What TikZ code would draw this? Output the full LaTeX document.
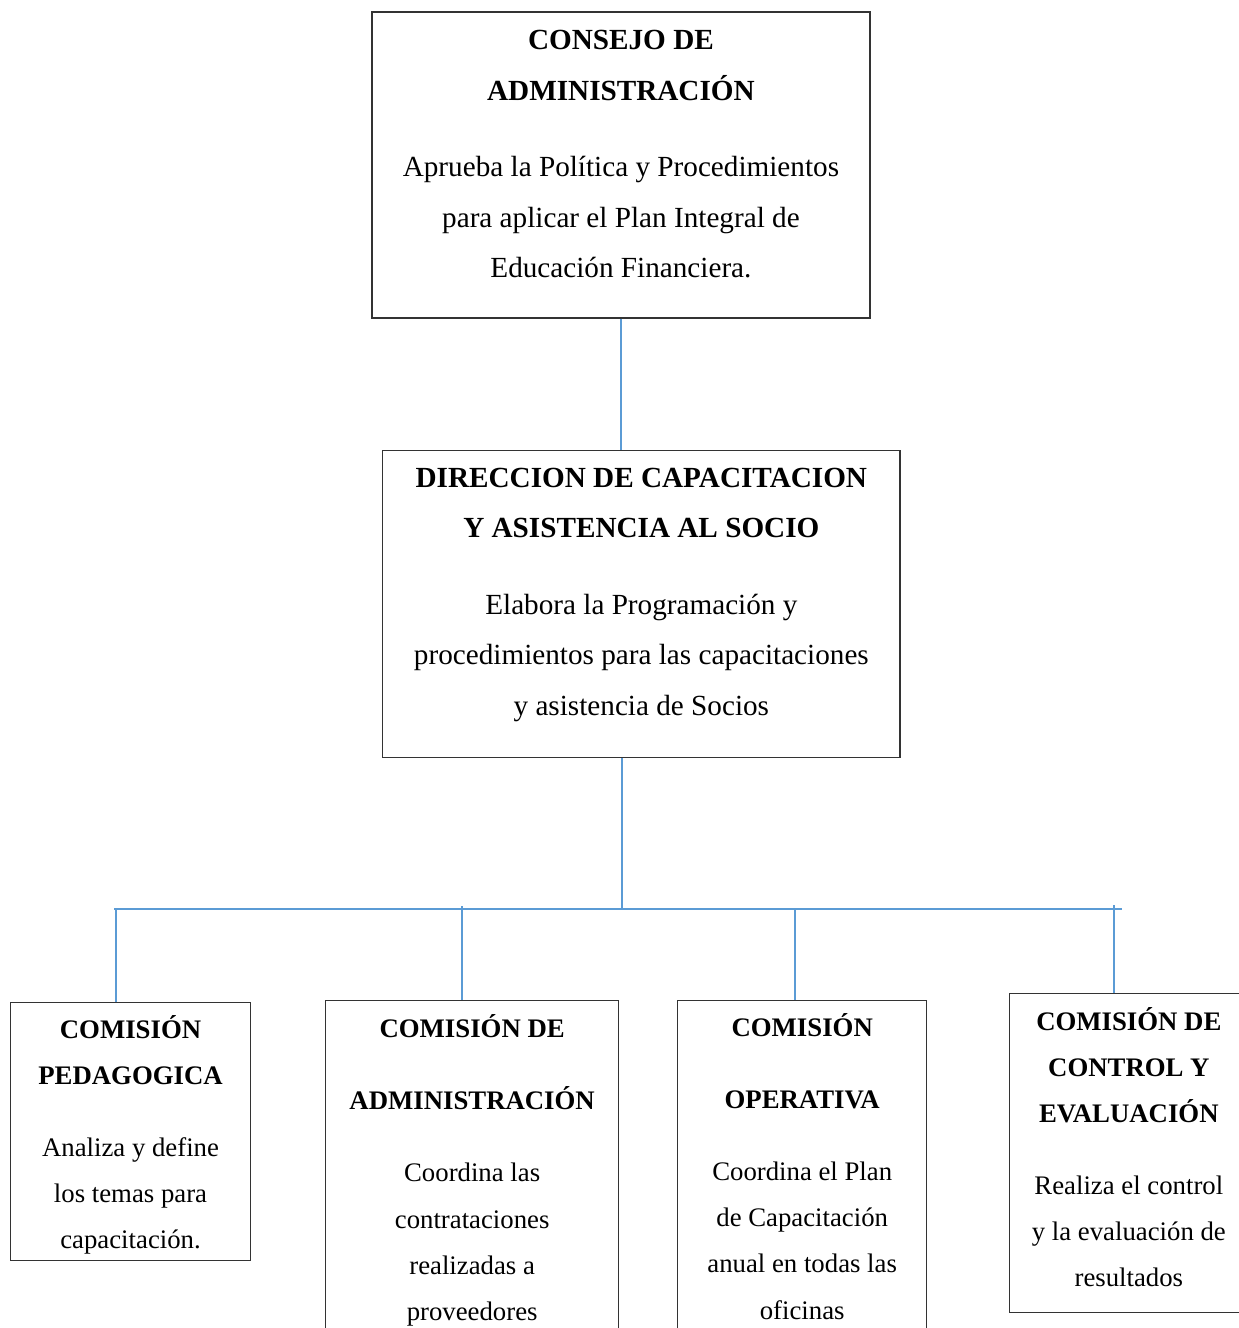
\documentclass[tikz,border=0pt]{standalone}
\usepackage{fontspec}
\setmainfont{Liberation Serif}
\usepackage{xcolor}
\usetikzlibrary{positioning,calc}
\definecolor{linkblue}{RGB}{91,155,213}

\begin{document}
\begin{tikzpicture}[
  font=\fontsize{12}{20.7}\selectfont,
  block/.style={draw=black!80,line width=0.5pt,align=center,inner sep=0pt},
  unit/.style={block,font=\fontsize{11}{19}\selectfont},
  link/.style={draw=linkblue,line width=0.65pt}]

\useasboundingbox (0,0) rectangle (509.2pt,-545.8pt);

% ---- board and direction ----
\node[block,minimum width=204.7pt,minimum height=125.8pt] (consejo) at (255.2pt,-67.8pt)
  {\textbf{CONSEJO DE}\\ \textbf{ADMINISTRACIÓN}\\[10.9pt]
   Aprueba la Política y Procedimientos\\ para aplicar el Plan Integral de\\
   Educación Financiera.\rule[-9pt]{0pt}{0pt}};
\node[block,minimum width=212.5pt,minimum height=126.2pt,below=53.8pt of consejo,xshift=8.4pt] (direccion)
  {\textbf{DIRECCION DE CAPACITACION}\\ \textbf{Y ASISTENCIA AL SOCIO}\\[10.9pt]
   Elabora la Programación y\\ procedimientos para las capacitaciones\\
   y asistencia de Socios\rule[-10pt]{0pt}{0pt}};

% ---- commissions ----
\node[unit,minimum width=98.6pt,minimum height=106pt,anchor=north west] (pedagogica) at (4.1pt,-411.8pt)
  {\rule{0pt}{12.2pt}\textbf{COMISIÓN}\\ \textbf{PEDAGOGICA}\\[10.6pt]
   Analiza y define\\ los temas para\\ capacitación.};
\node[unit,minimum width=120.4pt,minimum height=139.7pt,right=30.4pt of pedagogica.north east,
      anchor=north west,yshift=0.8pt] (administracion)
  {\textbf{COMISIÓN DE}\\[10.6pt] \textbf{ADMINISTRACIÓN}\\[10.6pt]
   Coordina las\\ contrataciones\\ realizadas a\\ proveedores};
\node[unit,minimum width=102.3pt,minimum height=139.7pt,right=23.8pt of administracion.north east,
      anchor=north west] (operativa)
  {\textbf{COMISIÓN}\\[10.6pt] \textbf{OPERATIVA}\\[10.6pt]
   Coordina el Plan\\ de Capacitación\\ anual en todas las\\ oficinas\rule[-3.5pt]{0pt}{0pt}};
\node[unit,minimum width=97.8pt,minimum height=131.1pt,right=33.7pt of operativa.north east,
      anchor=north west,yshift=2.9pt] (control)
  {\textbf{COMISIÓN DE}\\ \textbf{CONTROL Y}\\ \textbf{EVALUACIÓN}\\[10.6pt]
   Realiza el control\\ y la evaluación de\\ resultados\rule[-5pt]{0pt}{0pt}};

% ---- connectors ----
\coordinate (hub) at (255.6pt,-373.6pt);
\coordinate (busL) at (46.9pt,-373.6pt);
\coordinate (busR) at (461.1pt,-373.6pt);
\coordinate (tapA) at (47.7pt,-373.6pt);
\coordinate (tapB) at (189.9pt,-372.4pt);
\coordinate (tapC) at (326.7pt,-373.6pt);
\coordinate (tapD) at (457.9pt,-372.0pt);
\draw[link] (consejo.south) -- (consejo.south |- direccion.north);
\draw[link] (direccion.south -| hub) -- (hub);
\draw[link] (busL) -- (busR);
\foreach \t/\n in {tapA/pedagogica,tapB/administracion,tapC/operativa,tapD/control}
  \draw[link] (\t) -- (\t |- \n.north);
\end{tikzpicture}
\end{document}
